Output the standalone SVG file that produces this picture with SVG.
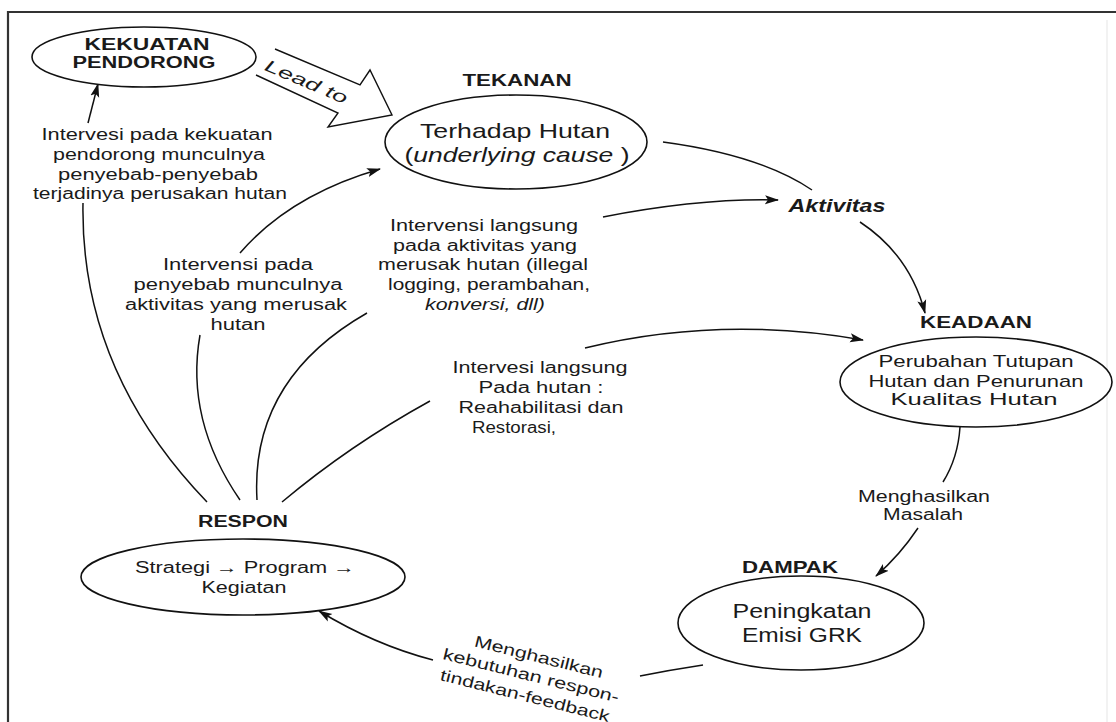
<svg xmlns="http://www.w3.org/2000/svg" width="1116" height="722" viewBox="0 0 1116 722">
<defs>
<marker id="ah" markerWidth="14" markerHeight="10" refX="13" refY="5" orient="auto" markerUnits="userSpaceOnUse">
<path d="M0,0.5 L14,5 L0,9.5 L3,5 Z" fill="#111"/>
</marker>
<style>
text{font-family:"Liberation Sans",Arial,sans-serif;fill:#1a1a1a;text-anchor:middle}
.b{font-weight:bold}
.i{font-style:italic}
.n{fill:#fff;stroke:#111;stroke-width:1.6}
.c{fill:none;stroke:#111;stroke-width:1.5}
.ca{fill:none;stroke:#111;stroke-width:1.5;marker-end:url(#ah)}
</style>
</defs>
<rect width="1116" height="722" fill="#fff"/>
<path d="M8,722 L8,12 L1116,12" fill="none" stroke="#333" stroke-width="2.2"/>
<line x1="1107" y1="20" x2="1107" y2="722" stroke="#eee" stroke-width="1.5"/>

<g id="connectors">
<polyline points="275,49 360,85 370,70 392,115 328,127 338,113 256,75" fill="#fff" stroke="#111" stroke-width="1.4" stroke-linejoin="miter"/>
<path class="c" d="M207,502 Q80,370 83,203"/>
<path class="ca" d="M88,123 L98,84"/>
<path class="c" d="M240,500 Q185,420 200,335"/>
<path class="ca" d="M240,253 Q290,195 380,169"/>
<path class="c" d="M257,500 Q250,380 367,313"/>
<path class="ca" d="M603,217 Q700,198 778,200"/>
<path class="c" d="M282,502 Q350,445 430,401"/>
<path class="ca" d="M585,348 Q720,315 863,340"/>
<path class="c" d="M663,142 Q760,155 812,190"/>
<path class="ca" d="M860,222 Q910,255 925,313"/>
<path class="c" d="M960,427 Q958,458 943,482"/>
<path class="ca" d="M918,528 Q900,555 876,576"/>
<path class="c" d="M703,665 Q670,670 640,676"/>
<path class="ca" d="M433,660 Q375,645 319,611"/>
</g>

<g id="kekuatan">
<ellipse class="n" cx="144" cy="57" rx="112" ry="30"/>
<text class="b" x="147" y="50" font-size="16" textLength="125" lengthAdjust="spacingAndGlyphs">KEKUATAN</text>
<text class="b" x="144" y="68" font-size="16" textLength="143" lengthAdjust="spacingAndGlyphs">PENDORONG</text>
</g>

<g id="lead-to">
<text class="i" transform="translate(304,87) rotate(23)" x="0" y="0" font-size="17" textLength="88" lengthAdjust="spacingAndGlyphs">Lead to</text>
</g>

<g id="tekanan">
<text class="b" x="517" y="86" font-size="16" textLength="109" lengthAdjust="spacingAndGlyphs">TEKANAN</text>
<ellipse class="n" cx="516" cy="142" rx="131" ry="47"/>
<text x="515" y="138" font-size="21" textLength="190" lengthAdjust="spacingAndGlyphs">Terhadap Hutan</text>
<text x="517" y="162" font-size="21" textLength="225" lengthAdjust="spacingAndGlyphs">(<tspan class="i">underlying cause</tspan> )</text>
</g>

<g id="aktivitas">
<text class="b i" x="837" y="212" font-size="18" textLength="97" lengthAdjust="spacingAndGlyphs">Aktivitas</text>
</g>

<g id="keadaan">
<text class="b" x="976" y="328" font-size="16" textLength="112" lengthAdjust="spacingAndGlyphs">KEADAAN</text>
<ellipse class="n" cx="976" cy="382" rx="136" ry="45"/>
<text x="976" y="367" font-size="17" textLength="195" lengthAdjust="spacingAndGlyphs">Perubahan Tutupan</text>
<text x="976" y="387" font-size="17" textLength="215" lengthAdjust="spacingAndGlyphs">Hutan dan Penurunan</text>
<text x="974" y="405" font-size="17" textLength="167" lengthAdjust="spacingAndGlyphs">Kualitas Hutan</text>
</g>

<g id="dampak">
<text class="b" x="790" y="573" font-size="17" textLength="96" lengthAdjust="spacingAndGlyphs">DAMPAK</text>
<ellipse class="n" cx="801" cy="623" rx="123" ry="47"/>
<text x="802" y="618" font-size="20" textLength="139" lengthAdjust="spacingAndGlyphs">Peningkatan</text>
<text x="802" y="642" font-size="20" textLength="120" lengthAdjust="spacingAndGlyphs">Emisi GRK</text>
</g>

<g id="respon">
<text class="b" x="243" y="527" font-size="16" textLength="90" lengthAdjust="spacingAndGlyphs">RESPON</text>
<ellipse class="n" cx="243" cy="577" rx="162" ry="38"/>
<text x="245" y="573" font-size="16" textLength="220" lengthAdjust="spacingAndGlyphs">Strategi → Program →</text>
<text x="244" y="593" font-size="16" textLength="85" lengthAdjust="spacingAndGlyphs">Kegiatan</text>
</g>

<g id="label-kekuatan">
<text x="157" y="140" font-size="16" textLength="231" lengthAdjust="spacingAndGlyphs">Intervesi pada kekuatan</text>
<text x="159" y="160" font-size="16" textLength="212" lengthAdjust="spacingAndGlyphs">pendorong munculnya</text>
<text x="158" y="180" font-size="16" textLength="200" lengthAdjust="spacingAndGlyphs">penyebab-penyebab</text>
<text x="160" y="199" font-size="16" textLength="254" lengthAdjust="spacingAndGlyphs">terjadinya perusakan hutan</text>
</g>

<g id="label-penyebab">
<text x="238" y="270" font-size="16" textLength="150" lengthAdjust="spacingAndGlyphs">Intervensi pada</text>
<text x="238" y="290" font-size="16" textLength="209" lengthAdjust="spacingAndGlyphs">penyebab munculnya</text>
<text x="236" y="310" font-size="16" textLength="222" lengthAdjust="spacingAndGlyphs">aktivitas yang merusak</text>
<text x="238" y="330" font-size="16" textLength="55" lengthAdjust="spacingAndGlyphs">hutan</text>
</g>

<g id="label-aktivitas">
<text x="484" y="231" font-size="16" textLength="188" lengthAdjust="spacingAndGlyphs">Intervensi langsung</text>
<text x="485" y="251" font-size="16" textLength="184" lengthAdjust="spacingAndGlyphs">pada aktivitas yang</text>
<text x="483" y="270" font-size="16" textLength="210" lengthAdjust="spacingAndGlyphs">merusak hutan (illegal</text>
<text x="489" y="290" font-size="16" textLength="202" lengthAdjust="spacingAndGlyphs">logging, perambahan,</text>
<text class="i" x="485" y="310" font-size="16" textLength="120" lengthAdjust="spacingAndGlyphs">konversi, dll)</text>
</g>

<g id="label-hutan">
<text x="540" y="373" font-size="16" textLength="175" lengthAdjust="spacingAndGlyphs">Intervesi langsung</text>
<text x="541" y="393" font-size="16" textLength="125" lengthAdjust="spacingAndGlyphs">Pada hutan :</text>
<text x="541" y="413" font-size="16" textLength="165" lengthAdjust="spacingAndGlyphs">Reahabilitasi dan</text>
<text x="514" y="433" font-size="16" textLength="84" lengthAdjust="spacingAndGlyphs">Restorasi,</text>
</g>

<g id="label-masalah">
<text x="924" y="502" font-size="16" textLength="132" lengthAdjust="spacingAndGlyphs">Menghasilkan</text>
<text x="923" y="520" font-size="16" textLength="80" lengthAdjust="spacingAndGlyphs">Masalah</text>
</g>

<g id="label-feedback" transform="translate(531,676) rotate(14)">
<text x="3" y="-15" font-size="16" textLength="132" lengthAdjust="spacingAndGlyphs">Menghasilkan</text>
<text x="0" y="5" font-size="16" textLength="181" lengthAdjust="spacingAndGlyphs">kebutuhan respon-</text>
<text x="-1" y="26" font-size="16" textLength="174" lengthAdjust="spacingAndGlyphs">tindakan-feedback</text>
</g>
</svg>
